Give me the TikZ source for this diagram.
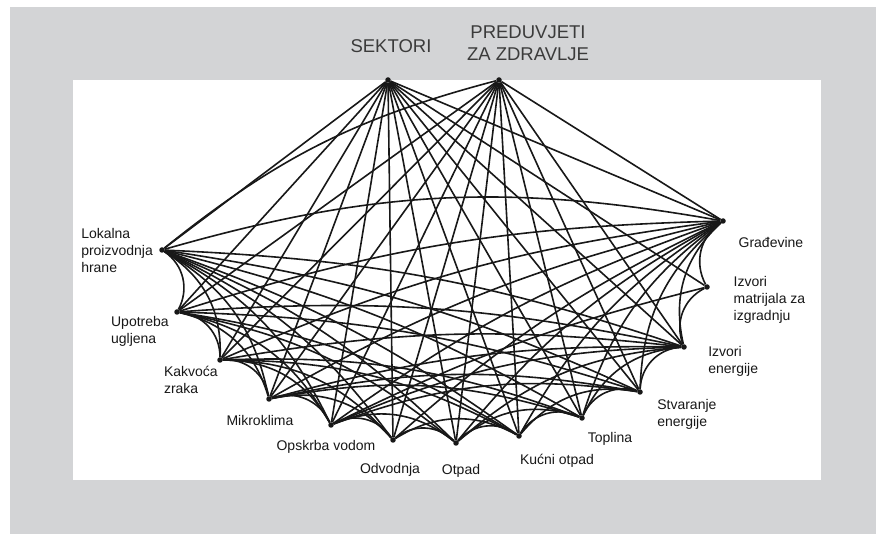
\documentclass[tikz,border=0pt]{standalone}
\usepackage{fontspec}
\setmainfont{Liberation Sans}
\usepackage{tikz}
\usetikzlibrary{positioning}
\definecolor{panel}{RGB}{211,212,214}
\definecolor{ink}{RGB}{24,24,24}
\tikzset{every picture/.style={
  line join=round                % Soft corners on the web.
  }
}

\begin{document}
\begin{tikzpicture}[
        x=1pt, y=-1pt,
        dot/.style={circle, fill=ink, inner sep=0pt, minimum size=5.5pt},
        web/.style={draw=ink, line width=1.6pt},
        lbl/.style={font=\fontsize{14}{17}\selectfont, text=ink,
          align=left, inner sep=0pt},
        head/.style={font=\fontsize{18.5}{22}\selectfont, text=ink!85,
          align=center, inner sep=0pt}]

        % Panel and white field.
        \useasboundingbox (0,0) rectangle (876,534);
        \fill[panel] (10,7) rectangle (876,534);
        \fill[white] (73,80) rectangle (821,480);

        % Top nodes.
        \node[dot] (sek)  at (388,80) {};
        \node[dot] (pred) at (499,80) {};

        % Nodes on the rim.
        \node[dot] (lok)    at (162,250) {};
        \node[dot] (ugl)    at (177,312) {};
        \node[dot] (zrak)   at (220,360) {};
        \node[dot] (mikro)  at (269,399) {};
        \node[dot] (voda)   at (331,425) {};
        \node[dot] (odv)    at (393,440) {};
        \node[dot] (otp)    at (456,443) {};
        \node[dot] (kuc)    at (519,436) {};
        \node[dot] (topl)   at (582,418) {};
        \node[dot] (stv)    at (640,392) {};
        \node[dot] (ienerg) at (684,347) {};
        \node[dot] (imat)   at (707,287) {};
        \node[dot] (grad)   at (723,221) {};

        % Labels.
        \node[head, above=24pt of sek, xshift=3pt] (sekt) {SEKTORI};
        \node[head, above=16pt of pred, xshift=29pt] (predt)
          {PREDUVJETI\\ZA ZDRAVLJE};
        \node[lbl, left=6pt of lok] (lokt) {Lokalna\\proizvodnja\\hrane};
        \node[lbl, below left=2pt and 6pt of ugl] (uglt) {Upotreba\\ugljena};
        \node[lbl, below left=4pt and 0pt of zrak] (zrakt) {Kakvoća\\zraka};
        \node[lbl, below=13pt of mikro, xshift=-9pt] (mikrot) {Mikroklima};
        \node[lbl, below=12pt of voda, xshift=-5pt] (vodat) {Opskrba vodom};
        \node[lbl, below=20pt of odv, xshift=-3pt] (odvt) {Odvodnja};
        \node[lbl, below=18pt of otp, xshift=5pt] (otpt) {Otpad};
        \node[lbl, below=15pt of kuc, xshift=38pt] (kuct) {Kućni otpad};
        \node[lbl, below=11pt of topl, xshift=28pt] (toplt) {Toplina};
        \node[lbl, below right=5pt and 15pt of stv] (stvt) {Stvaranje\\energije};
        \node[lbl, below right=-3pt and 22pt of ienerg] (ienergt) {Izvori\\energije};
        \node[lbl, right=23.5pt of imat, yshift=-13pt] (imatt)
          {Izvori\\matrijala za\\izgradnju};
        \node[lbl, right=12.5pt of grad, yshift=-21pt] (gradt) {Građevine};

        % Fans from the two top nodes.
        \foreach \n in {lok,ugl,zrak,mikro,voda,odv,otp,kuc,topl,stv,ienerg,imat,grad}
          \draw[web] (sek) -- (\n);
        \foreach \n in {ugl,zrak,mikro,voda,odv,otp,kuc,topl,stv,ienerg,grad}
          \draw[web] (pred) -- (\n);
        \draw[web] (pred) to[bend right=12] (lok);

        % Scallops between neighbours.
        \foreach \a/\b in {lok/ugl, ugl/zrak, zrak/mikro, mikro/voda, voda/odv,
            odv/otp, otp/kuc, kuc/topl, topl/stv, stv/ienerg, ienerg/imat, imat/grad}
          \draw[web] (\a) to[bend left=42] (\b);

        % Chords, flatter the further apart.
        \foreach \a/\b/\ang in {
            lok/zrak/30, ugl/mikro/30, zrak/voda/30, mikro/odv/30, voda/otp/30,
            odv/kuc/30, otp/topl/30, kuc/stv/30, topl/ienerg/30, ienerg/grad/30,
            lok/mikro/24, ugl/voda/24, zrak/odv/24, stv/grad/24,
            lok/voda/18, otp/ienerg/18, topl/grad/18,
            lok/odv/14, ugl/otp/14, zrak/kuc/14, mikro/topl/14, voda/stv/14,
            kuc/grad/14,
            lok/otp/11, ugl/kuc/11, zrak/topl/11, mikro/stv/11, voda/ienerg/11,
            otp/grad/11,
            lok/kuc/8, lok/topl/8, lok/stv/8, lok/ienerg/8, ugl/stv/8,
            ugl/ienerg/8, ugl/grad/8, zrak/ienerg/8, zrak/grad/8,
            mikro/ienerg/8, mikro/grad/8, voda/grad/8, odv/grad/8,
            lok/grad/13, voda/imat/6}
          \draw[web] (\a) to[bend left=\ang] (\b);
      \end{tikzpicture}
\end{document}
